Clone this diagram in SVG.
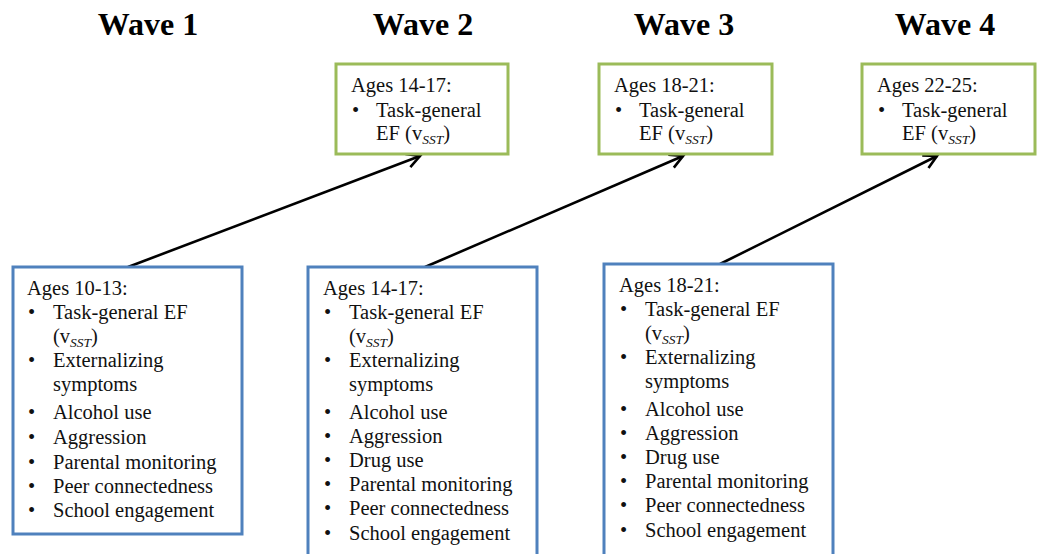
<svg xmlns="http://www.w3.org/2000/svg" width="1040" height="554" viewBox="0 0 1040 554">
<style>
.title{font-weight:bold;font-size:32px;fill:#000;text-anchor:middle}
.t{font-size:20.5px;fill:#111}
.sub{font-style:italic;font-size:13.5px}
.green{fill:#fff;stroke:#9bbb59;stroke-width:3}
.blue{fill:#fff;stroke:#4f81bd;stroke-width:3}
.conn{stroke:#000;stroke-width:2.6;fill:none}
</style>
<defs>
<marker id="arr" markerUnits="userSpaceOnUse" markerWidth="24" markerHeight="24" viewBox="-18 -12 24 24" refX="0" refY="0" orient="auto">
<path d="M-13,-7 L0,0 L-13,7" fill="none" stroke="#000" stroke-width="2.6" stroke-linejoin="miter"/>
</marker>
</defs>
<rect width="1040" height="554" fill="#fff"/>
<g font-family="Liberation Serif, Times New Roman, serif">
<g id="titles">
<text class="title" x="148" y="35">Wave 1</text>
<text class="title" x="423" y="35">Wave 2</text>
<text class="title" x="684" y="35">Wave 3</text>
<text class="title" x="945" y="35">Wave 4</text>
</g>
<g id="connectors">
<line class="conn" x1="128" y1="267" x2="420" y2="156" marker-end="url(#arr)"/>
<line class="conn" x1="425" y1="267" x2="683" y2="156" marker-end="url(#arr)"/>
<line class="conn" x1="720" y1="264" x2="937" y2="156" marker-end="url(#arr)"/>
</g>
<g id="w2-ef">
<rect class="green" x="336" y="64" width="172" height="90"/>
<text class="t" x="351" y="92">Ages 14-17:</text>
<text class="t" x="352" y="117">•</text>
<text class="t" x="376" y="117">Task-general</text>
<text class="t" x="376" y="140">EF (v<tspan class="sub" dy="4">SST</tspan><tspan dy="-4">)</tspan></text>
</g>
<g id="w3-ef">
<rect class="green" x="599" y="64" width="173" height="90"/>
<text class="t" x="614" y="92">Ages 18-21:</text>
<text class="t" x="615" y="117">•</text>
<text class="t" x="639" y="117">Task-general</text>
<text class="t" x="639" y="140">EF (v<tspan class="sub" dy="4">SST</tspan><tspan dy="-4">)</tspan></text>
</g>
<g id="w4-ef">
<rect class="green" x="862" y="64" width="173" height="90"/>
<text class="t" x="877" y="92">Ages 22-25:</text>
<text class="t" x="878" y="117">•</text>
<text class="t" x="902" y="117">Task-general</text>
<text class="t" x="902" y="140">EF (v<tspan class="sub" dy="4">SST</tspan><tspan dy="-4">)</tspan></text>
</g>
<g id="w1-vars">
<rect class="blue" x="13" y="267" width="229" height="267"/>
<text class="t" x="27" y="295">Ages 10-13:</text>
<g class="t">
<text x="28" y="319">•</text><text x="53" y="319">Task-general EF</text>
<text x="53" y="343">(v<tspan class="sub" dy="4">SST</tspan><tspan dy="-4">)</tspan></text>
<text x="28" y="367">•</text><text x="53" y="367">Externalizing</text>
<text x="53" y="391">symptoms</text>
<text x="28" y="419">•</text><text x="53" y="419">Alcohol use</text>
<text x="28" y="444">•</text><text x="53" y="444">Aggression</text>
<text x="28" y="469">•</text><text x="53" y="469">Parental monitoring</text>
<text x="28" y="493">•</text><text x="53" y="493">Peer connectedness</text>
<text x="28" y="517">•</text><text x="53" y="517">School engagement</text>
</g>
</g>
<g id="w2-vars">
<rect class="blue" x="308" y="267" width="229" height="295"/>
<text class="t" x="323" y="295">Ages 14-17:</text>
<g class="t">
<text x="324" y="319">•</text><text x="349" y="319">Task-general EF</text>
<text x="349" y="343">(v<tspan class="sub" dy="4">SST</tspan><tspan dy="-4">)</tspan></text>
<text x="324" y="367">•</text><text x="349" y="367">Externalizing</text>
<text x="349" y="391">symptoms</text>
<text x="324" y="419">•</text><text x="349" y="419">Alcohol use</text>
<text x="324" y="443">•</text><text x="349" y="443">Aggression</text>
<text x="324" y="467">•</text><text x="349" y="467">Drug use</text>
<text x="324" y="491">•</text><text x="349" y="491">Parental monitoring</text>
<text x="324" y="515">•</text><text x="349" y="515">Peer connectedness</text>
<text x="324" y="540">•</text><text x="349" y="540">School engagement</text>
</g>
</g>
<g id="w3-vars">
<rect class="blue" x="604" y="264" width="229" height="298"/>
<text class="t" x="619" y="292">Ages 18-21:</text>
<g class="t">
<text x="620" y="316">•</text><text x="645" y="316">Task-general EF</text>
<text x="645" y="340">(v<tspan class="sub" dy="4">SST</tspan><tspan dy="-4">)</tspan></text>
<text x="620" y="364">•</text><text x="645" y="364">Externalizing</text>
<text x="645" y="388">symptoms</text>
<text x="620" y="416">•</text><text x="645" y="416">Alcohol use</text>
<text x="620" y="440">•</text><text x="645" y="440">Aggression</text>
<text x="620" y="464">•</text><text x="645" y="464">Drug use</text>
<text x="620" y="488">•</text><text x="645" y="488">Parental monitoring</text>
<text x="620" y="512">•</text><text x="645" y="512">Peer connectedness</text>
<text x="620" y="537">•</text><text x="645" y="537">School engagement</text>
</g>
</g>
</g>
</svg>
